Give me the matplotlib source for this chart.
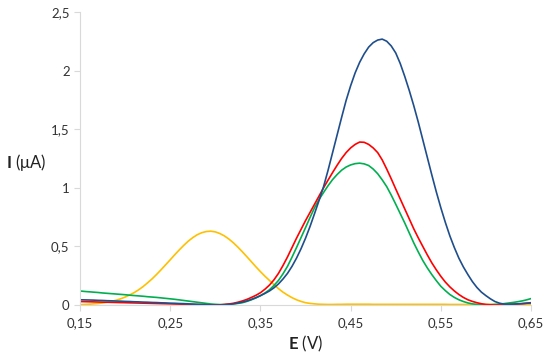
import numpy as np
import matplotlib
matplotlib.use('Agg')
import matplotlib.pyplot as plt

# potential axis (V), 0.15 .. 0.65 in 0.005 steps
E = np.round(np.linspace(0.15, 0.65, 101), 3)

# currents (uA), one row = 0.05 V
yellow = [0.003, 0.005, 0.007, 0.010, 0.013, 0.018, 0.024, 0.032, 0.041, 0.053,
          0.068, 0.086, 0.106, 0.130, 0.158, 0.190, 0.224, 0.262, 0.302, 0.344,
          0.386, 0.429, 0.470, 0.509, 0.545, 0.575, 0.600, 0.617, 0.627, 0.630,
          0.624, 0.610, 0.590, 0.563, 0.531, 0.494, 0.454, 0.412, 0.369, 0.326,
          0.285, 0.246, 0.210, 0.174, 0.140, 0.110, 0.085, 0.063, 0.045, 0.031,
          0.020, 0.014, 0.010, 0.007, 0.006, 0.005, 0.005, 0.006, 0.006, 0.007,
          0.007, 0.007, 0.007, 0.007, 0.007, 0.006, 0.006, 0.006, 0.006, 0.006,
          0.006, 0.006, 0.006, 0.006, 0.006, 0.006, 0.006, 0.006, 0.006, 0.006,
          0.006, 0.006, 0.005, 0.005, 0.005, 0.005, 0.005, 0.005, 0.005, 0.005,
          0.005, 0.005, 0.005, 0.005, 0.005, 0.005, 0.005, 0.005, 0.005, 0.005,
          0.005]
green = [0.120, 0.116, 0.113, 0.110, 0.107, 0.103, 0.100, 0.097, 0.094, 0.091,
         0.088, 0.084, 0.081, 0.078, 0.075, 0.071, 0.068, 0.065, 0.061, 0.057,
         0.053, 0.049, 0.044, 0.039, 0.034, 0.029, 0.024, 0.019, 0.014, 0.009,
         0.006, 0.004, 0.004, 0.006, 0.010, 0.014, 0.020, 0.031, 0.045, 0.061,
         0.080, 0.103, 0.130, 0.167, 0.210, 0.266, 0.330, 0.408, 0.490, 0.575,
         0.660, 0.747, 0.830, 0.900, 0.960, 1.018, 1.070, 1.113, 1.150, 1.177,
         1.195, 1.206, 1.210, 1.204, 1.190, 1.160, 1.120, 1.068, 1.010, 0.938,
         0.860, 0.780, 0.700, 0.615, 0.530, 0.453, 0.380, 0.317, 0.260, 0.208,
         0.160, 0.123, 0.090, 0.065, 0.045, 0.030, 0.018, 0.010, 0.005, 0.003,
         0.002, 0.003, 0.005, 0.008, 0.012, 0.017, 0.022, 0.028, 0.035, 0.044,
         0.055]
red = [0.030, 0.029, 0.028, 0.027, 0.026, 0.025, 0.024, 0.023, 0.022, 0.021,
       0.020, 0.019, 0.018, 0.017, 0.016, 0.015, 0.014, 0.013, 0.012, 0.011,
       0.010, 0.009, 0.008, 0.007, 0.006, 0.005, 0.004, 0.003, 0.002, 0.001,
       0.000, 0.001, 0.005, 0.009, 0.015, 0.024, 0.035, 0.048, 0.065, 0.083,
       0.105, 0.135, 0.170, 0.215, 0.270, 0.337, 0.410, 0.490, 0.570, 0.645,
       0.720, 0.790, 0.860, 0.930, 1.000, 1.066, 1.130, 1.192, 1.250, 1.300,
       1.340, 1.370, 1.390, 1.388, 1.370, 1.340, 1.300, 1.238, 1.160, 1.077,
       0.990, 0.905, 0.820, 0.735, 0.650, 0.573, 0.500, 0.428, 0.360, 0.300,
       0.245, 0.196, 0.155, 0.120, 0.090, 0.065, 0.045, 0.031, 0.020, 0.011,
       0.005, 0.002, 0.000, 0.000, 0.002, 0.004, 0.006, 0.009, 0.012, 0.016,
       0.020]
blue = [0.045, 0.044, 0.043, 0.042, 0.040, 0.039, 0.037, 0.036, 0.034, 0.033,
        0.031, 0.030, 0.028, 0.027, 0.025, 0.024, 0.022, 0.021, 0.019, 0.018,
        0.016, 0.015, 0.013, 0.012, 0.010, 0.008, 0.006, 0.005, 0.003, 0.001,
        0.000, 0.000, 0.002, 0.005, 0.010, 0.017, 0.025, 0.035, 0.048, 0.063,
        0.080, 0.099, 0.120, 0.147, 0.180, 0.222, 0.270, 0.330, 0.400, 0.480,
        0.570, 0.670, 0.780, 0.892, 1.010, 1.150, 1.300, 1.450, 1.600, 1.745,
        1.870, 1.980, 2.070, 2.142, 2.200, 2.238, 2.260, 2.268, 2.250, 2.210,
        2.150, 2.060, 1.950, 1.830, 1.700, 1.560, 1.410, 1.260, 1.110, 0.965,
        0.830, 0.705, 0.590, 0.490, 0.400, 0.325, 0.260, 0.200, 0.150, 0.110,
        0.080, 0.053, 0.030, 0.016, 0.008, 0.007, 0.008, 0.010, 0.012, 0.015,
        0.018]

xticks = [0.15, 0.25, 0.35, 0.45, 0.55, 0.65]
xlabels = ['0,15', '0,25', '0,35', '0,45', '0,55', '0,65']
yticks = [0, 0.5, 1, 1.5, 2, 2.5]
ylabels = ['0', '0,5', '1', '1,5', '2', '2,5']

plt.rcParams['font.family'] = ['Lato', 'DejaVu Sans']
plt.rcParams['mathtext.fontset'] = 'custom'
plt.rcParams['mathtext.bf'] = 'Lato:bold'
plt.rcParams['mathtext.rm'] = 'Lato'

fig = plt.figure(figsize=(5.5, 3.61), dpi=100)
ax = fig.add_axes([0.1455, 0.155, 0.82, 0.812])

ax.plot(E, yellow, color='#FFC000', lw=1.2)
ax.plot(E, green, color='#00B050', lw=1.2)
ax.plot(E, red, color='#FF0000', lw=1.2)
ax.plot(E, blue, color='#1F4E8C', lw=1.2)

ax.set_xlim(0.15, 0.65)
ax.set_ylim(0, 2.5)
ax.set_xticks(xticks)
ax.set_xticklabels(xlabels)
ax.set_yticks(yticks)
ax.set_yticklabels(ylabels)

for s in ['top', 'right']:
    ax.spines[s].set_visible(False)
for s in ['left', 'bottom']:
    ax.spines[s].set_color('#D9D9D9')
    ax.spines[s].set_linewidth(0.8)
ax.tick_params(direction='out', length=4, width=0.8, color='#D9D9D9',
               labelsize=9.5, labelcolor='#333333')
ax.tick_params(axis='x', pad=5)

ax.set_xlabel(r'$\mathbf{E}$ (V)', fontsize=12, color='#222222', labelpad=3)
fig.text(0.048, 0.55, r'$\mathbf{I}$ ($\mathrm{\mu}$A)', fontsize=12,
         color='#222222', ha='center', va='center')

fig.savefig('out.png', dpi=100)
